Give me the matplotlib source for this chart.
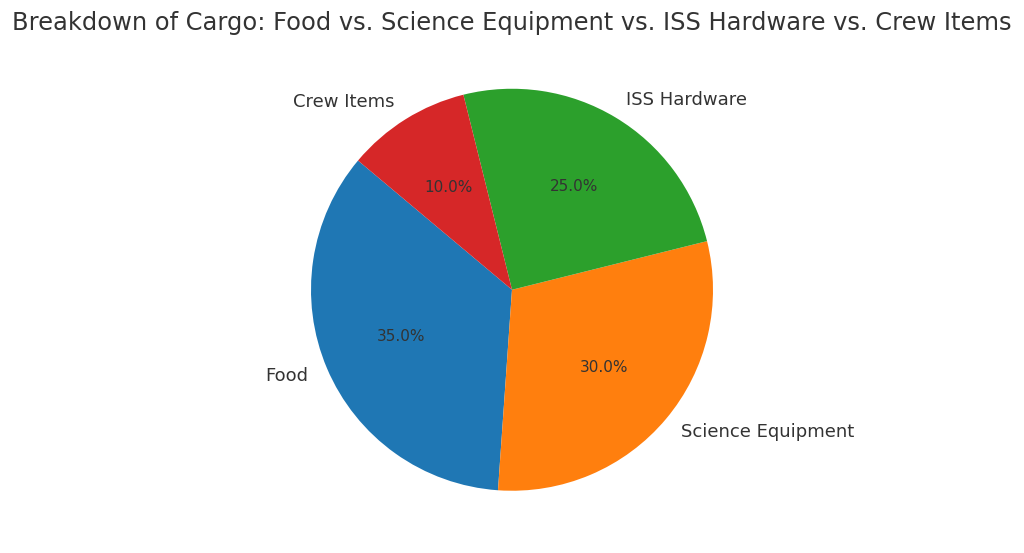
import matplotlib
matplotlib.use("Agg")
import matplotlib.pyplot as plt

categories = ['Food', 'Science Equipment', 'ISS Hardware', 'Crew Items']
shares = [35, 30, 25, 10]
colours = ['#1f77b4', '#ff7f0e', '#2ca02c', '#d62728']

plt.rcParams['text.color'] = '#333333'

fig = plt.figure(figsize=(10.24, 5.53), dpi=100)
ax = fig.add_axes([(512 - 251.25) / 1024, 12 / 553, 502.5 / 1024, 502.5 / 553])

wedges, texts, autotexts = ax.pie(shares, labels=categories, colors=colours,
                                  autopct='%1.1f%%', startangle=140,
                                  textprops={'fontsize': 13, 'color': '#333333'})
for t in autotexts:
    t.set_fontsize(11)
ax.set_aspect('equal')

fig.suptitle('Breakdown of Cargo: Food vs. Science Equipment vs. ISS Hardware vs. Crew Items',
             fontsize=17.4, color='#333333', y=0.98, va='top')

fig.savefig('out.png', dpi=100)
